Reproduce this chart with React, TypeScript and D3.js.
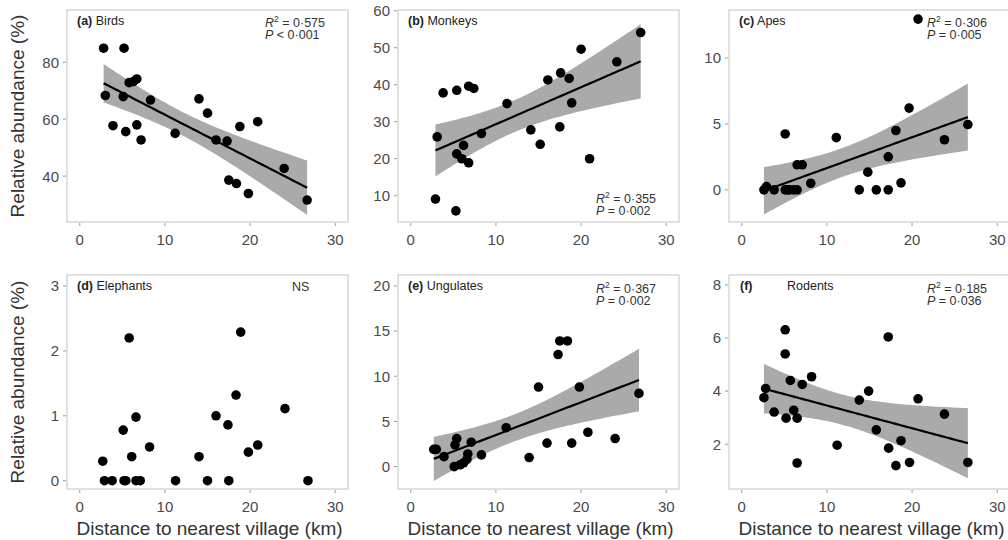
import React from "react";
import * as d3 from "d3";

// ---------- data ----------
const birdsX = [2.8, 3.0, 3.9, 5.2, 5.1, 5.4, 5.8, 6.3, 6.7, 6.7, 7.2, 8.3, 11.2, 14.0, 15.0, 16.0, 17.3, 17.5, 18.4, 18.8, 19.8, 20.9, 24.0, 26.7];
const birdsY = [84.9, 68.3, 57.7, 84.9, 67.9, 55.6, 72.8, 73.2, 74.1, 58.0, 52.7, 66.7, 55.0, 67.1, 62.1, 52.7, 52.3, 38.6, 37.4, 57.4, 33.9, 59.1, 42.7, 31.6];

const monkeysX = [2.9, 3.1, 3.8, 5.4, 5.3, 5.4, 6.0, 6.2, 6.8, 6.8, 7.4, 8.3, 11.3, 14.1, 15.2, 16.1, 17.5, 17.6, 18.6, 18.9, 20.0, 21.0, 24.2, 27.0];
const monkeysY = [9.1, 25.9, 37.8, 38.5, 5.9, 21.3, 20.0, 23.6, 39.6, 18.9, 39.0, 26.8, 34.9, 27.8, 23.9, 41.3, 28.6, 43.2, 41.7, 35.1, 49.6, 20.0, 46.2, 54.1];

const apesX = [2.6, 2.9, 3.8, 5.1, 5.1, 5.4, 5.6, 6.1, 6.5, 6.5, 7.1, 8.1, 11.1, 13.8, 14.8, 15.8, 17.2, 17.2, 18.1, 18.7, 19.65, 20.7, 23.8, 26.55];
const apesY = [0, 0.25, 0, 4.24, 0, 0, 0, 0, 1.9, 0, 1.9, 0.5, 3.96, 0, 1.34, 0, 0, 2.5, 4.5, 0.53, 6.2, 12.95, 3.8, 4.95];

const elephantsX = [2.7, 2.9, 3.8, 5.1, 5.2, 5.4, 5.8, 6.1, 6.6, 6.6, 7.1, 8.2, 11.25, 14.0, 15.0, 16.0, 17.4, 17.5, 18.35, 18.9, 19.8, 20.9, 24.1, 26.8];
const elephantsY = [0.3, 0, 0, 0.78, 0, 0, 2.2, 0.37, 0.98, 0, 0, 0.52, 0, 0.37, 0, 1.0, 0.86, 0, 1.32, 2.29, 0.44, 0.55, 1.11, 0];

const ungulatesX = [2.7, 3.0, 3.9, 5.1, 5.2, 5.4, 5.8, 6.2, 6.6, 6.7, 7.1, 8.3, 11.2, 13.9, 15.0, 16.0, 17.3, 17.5, 18.4, 18.9, 19.8, 20.8, 24.0, 26.8];
const ungulatesY = [1.9, 1.9, 1.1, 0, 2.4, 3.1, 0.2, 0.4, 0.8, 1.4, 2.7, 1.3, 4.3, 1.0, 8.8, 2.6, 12.4, 13.9, 13.9, 2.6, 8.8, 3.8, 3.1, 8.1];

const rodentsX = [2.6, 2.8, 3.8, 5.1, 5.1, 5.2, 5.7, 6.1, 6.5, 6.5, 7.1, 8.2, 11.2, 13.8, 14.9, 15.8, 17.2, 17.25, 18.1, 18.7, 19.7, 20.7, 23.8, 26.55];
const rodentsY = [3.75, 4.1, 3.21, 6.31, 5.4, 2.98, 4.4, 3.28, 2.98, 1.29, 4.25, 4.54, 1.96, 3.66, 4.0, 2.54, 6.04, 1.85, 1.19, 2.13, 1.31, 3.71, 3.13, 1.31];

const panelLetters = ["(a)", "(b)", "(c)", "(d)", "(e)", "(f)"];
const panelNames = ["Birds", "Monkeys", "Apes", "Elephants", "Ungulates", "Rodents"];
const r2Labels = ["0·575", "0·355", "0·306", "", "0·367", "0·185"];
const pLabels = ["< 0·001", "= 0·002", "= 0·005", "", "= 0·002", "= 0·036"];
const hasFit = [true, true, true, false, true, true];

const xTicks = [0, 10, 20, 30];
const xDomain = [-1.5, 31.5];
const yDomains = [[23.9, 98.3], [2.9, 60.2], [-2.44, 13.64], [-0.128, 3.17], [-2.48, 21.2], [0.31, 8.375]];
const yTicks = [[40, 60, 80], [10, 20, 30, 40, 50, 60], [0, 5, 10], [0, 1, 2, 3], [0, 5, 10, 15, 20], [2, 4, 6, 8]];

const xsAll = [birdsX, monkeysX, apesX, elephantsX, ungulatesX, rodentsX];
const ysAll = [birdsY, monkeysY, apesY, elephantsY, ungulatesY, rodentsY];

const T_CRIT = 2.074; // t(0.975, df = 22)

// ---------- layout ----------
const colLeft = [67, 398, 729];
const panelW = 281;
const rowTop = [10, 275];
const rowBottom = [222, 489];
const FONT = "Liberation Sans, Arial, Helvetica, sans-serif";

function fit(xs: number[], ys: number[]) {
  const n = xs.length;
  const mx = d3.mean(xs)!;
  const my = d3.mean(ys)!;
  let sxx = 0, sxy = 0;
  for (let i = 0; i < n; i++) {
    sxx += (xs[i] - mx) ** 2;
    sxy += (xs[i] - mx) * (ys[i] - my);
  }
  const b = sxy / sxx;
  const a = my - b * mx;
  let sse = 0;
  for (let i = 0; i < n; i++) sse += (ys[i] - (a + b * xs[i])) ** 2;
  const s = Math.sqrt(sse / (n - 2));
  const [x0, x1] = d3.extent(xs) as [number, number];
  const pts = d3.range(0, 81).map((k) => {
    const x = x0 + ((x1 - x0) * k) / 80;
    const yhat = a + b * x;
    const se = s * Math.sqrt(1 / n + (x - mx) ** 2 / sxx);
    return { x, y: yhat, lo: yhat - T_CRIT * se, hi: yhat + T_CRIT * se };
  });
  return pts;
}

function Panel({ idx }: { idx: number }) {
  const col = idx % 3;
  const row = Math.floor(idx / 3);
  const left = colLeft[col];
  const top = rowTop[row];
  const bottom = rowBottom[row];
  const xs = xsAll[idx];
  const ys = ysAll[idx];
  const x = d3.scaleLinear().domain(xDomain).range([left, left + panelW]);
  const y = d3.scaleLinear().domain(yDomains[idx]).range([bottom, top]);

  let ribbon: string | null = null;
  let line: string | null = null;
  if (hasFit[idx]) {
    const pts = fit(xs, ys);
    ribbon = d3.area<any>().x((d) => x(d.x)).y0((d) => y(d.lo)).y1((d) => y(d.hi))(pts);
    line = d3.line<any>().x((d) => x(d.x)).y((d) => y(d.y))(pts);
  }

  const statsBottom = idx === 1;
  const sx = left + 198;
  const sy1 = statsBottom ? bottom - 19 : top + (row === 0 ? 17 : 18);
  const sy2 = sy1 + 12;

  return (
    <g>
      <rect x={left} y={top} width={panelW} height={bottom - top} fill="#ffffff" stroke="#d4d4d4" strokeWidth={1.4} />
      {ribbon && <path d={ribbon} fill="#aaaaaa" stroke="none" />}
      {line && <path d={line} fill="none" stroke="#000" strokeWidth={2.2} />}
      {xs.map((xv, i) => (
        <circle key={i} cx={x(xv)} cy={y(ys[i])} r={4.8} fill="#000" />
      ))}
      {/* y axis */}
      {yTicks[idx].map((t) => (
        <g key={"y" + t}>
          <line x1={left - 4} x2={left - 1} y1={y(t)} y2={y(t)} stroke="#9a9a9a" strokeWidth={1} />
          <text x={left - 8} y={y(t)} dy="0.36em" textAnchor="end" fontSize={15} fill="#4a4a4a" fontFamily={FONT}>
            {t}
          </text>
        </g>
      ))}
      {/* x axis */}
      {xTicks.map((t) => (
        <g key={"x" + t}>
          <line x1={x(t)} x2={x(t)} y1={bottom + 1} y2={bottom + 4} stroke="#9a9a9a" strokeWidth={1} />
          <text x={x(t)} y={bottom + 23} textAnchor="middle" fontSize={15} fill="#4a4a4a" fontFamily={FONT}>
            {t}
          </text>
        </g>
      ))}
      {/* panel label */}
      {idx === 5 ? (
        <text x={left + 11} y={top + 15} fontSize={12.5} fill="#222" fontFamily={FONT}>
          <tspan fontWeight="bold">{panelLetters[idx]}</tspan>
          <tspan x={left + 58}>{panelNames[idx]}</tspan>
        </text>
      ) : (
        <text x={left + 10} y={top + 15} fontSize={12.5} fill="#222" fontFamily={FONT}>
          <tspan fontWeight="bold">{panelLetters[idx]}</tspan>
          <tspan> {panelNames[idx]}</tspan>
        </text>
      )}
      {hasFit[idx] ? (
        <g fontFamily={FONT} fontSize={12.5} fill="#333">
          <text x={sx} y={sy1}>
            <tspan fontStyle="italic">R</tspan>
            <tspan fontSize={8.5} dy={-5}>2</tspan>
            <tspan dy={5}> = {r2Labels[idx]}</tspan>
          </text>
          <text x={sx} y={sy2}>
            <tspan fontStyle="italic">P</tspan>
            <tspan> {pLabels[idx]}</tspan>
          </text>
        </g>
      ) : (
        <text x={left + 225} y={top + 16} fontSize={12.5} fill="#333" fontFamily={FONT}>
          NS
        </text>
      )}
    </g>
  );
}

export default function App() {
  return (
    <div style={{ position: "absolute", left: 0, top: 0 }}>
      <svg width={1008} height={540} style={{ display: "block", background: "#fff" }}>
        <rect x={0} y={0} width={1008} height={540} fill="#fff" />
        {[0, 1, 2, 3, 4, 5].map((i) => (
          <Panel key={i} idx={i} />
        ))}
        {[0, 1].map((r) => (
          <text
            key={"yt" + r}
            transform={`translate(24,${(rowTop[r] + rowBottom[r]) / 2}) rotate(-90)`}
            textAnchor="middle"
            fontSize={19}
            fill="#333"
            fontFamily={FONT}
          >
            Relative abundance (%)
          </text>
        ))}
        {[0, 1, 2].map((c) => (
          <text
            key={"xt" + c}
            x={colLeft[c] + panelW / 2 + 2}
            y={535}
            textAnchor="middle"
            fontSize={19}
            fill="#333"
            fontFamily={FONT}
          >
            Distance to nearest village (km)
          </text>
        ))}
      </svg>
    </div>
  );
}
